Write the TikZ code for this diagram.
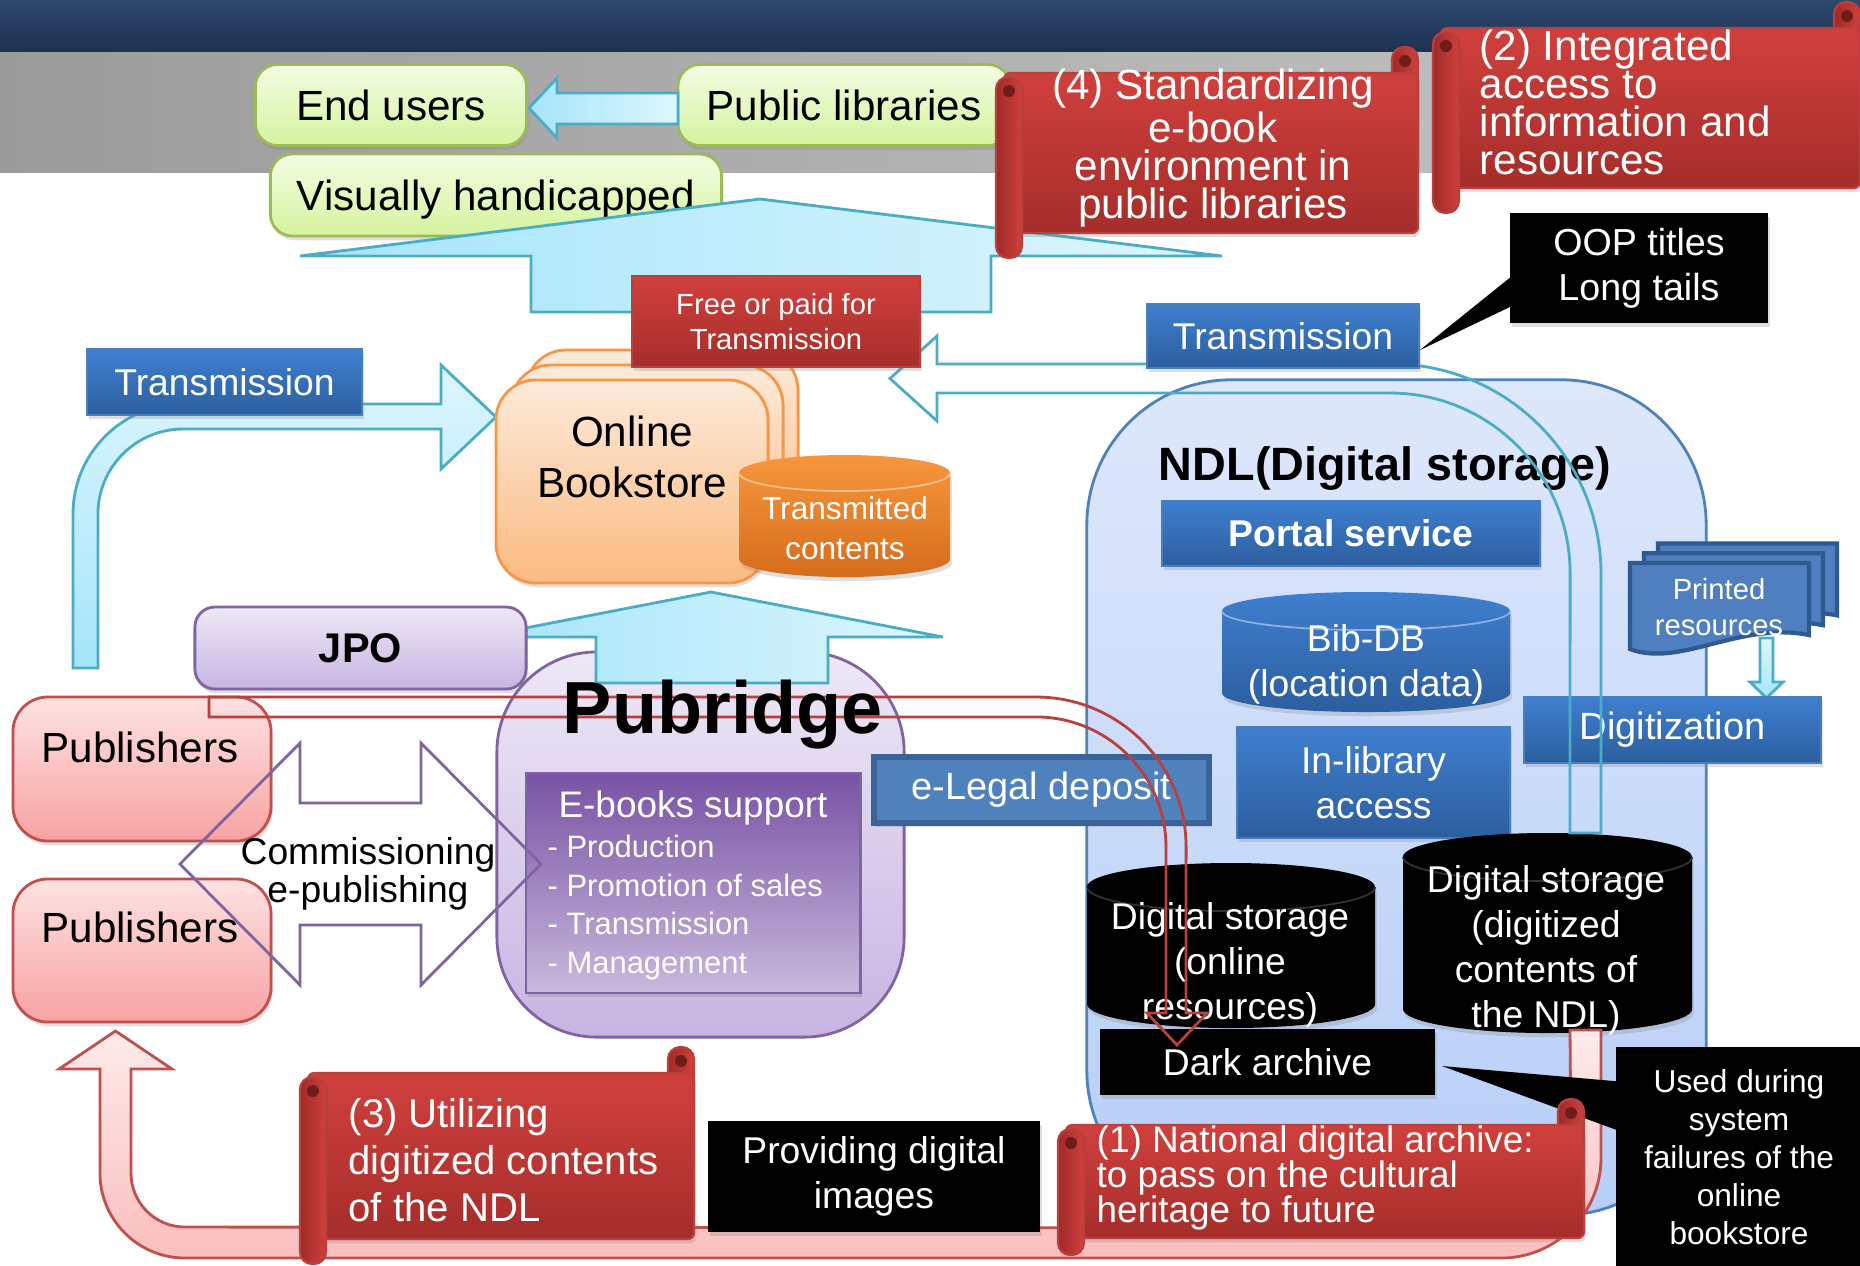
\documentclass[tikz,border=0pt]{standalone}
\usepackage{fontspec}
\setmainfont{Liberation Sans}
\usetikzlibrary{shadows}
\definecolor{navytop}{HTML}{2F4A6E}
\definecolor{navybot}{HTML}{1E3050}
\definecolor{bandl}{HTML}{9B9B9B}
\definecolor{bandr}{HTML}{C6C6C6}
\definecolor{grntop}{HTML}{F3FDE3}
\definecolor{grnbot}{HTML}{D4F39E}
\definecolor{grnedge}{HTML}{9BBB59}
\definecolor{cyanl}{HTML}{A6E5FA}
\definecolor{cyanr}{HTML}{DDF6FD}
\definecolor{cyanedge}{HTML}{4BACC6}
\definecolor{redtop}{HTML}{D0403D}
\definecolor{redbot}{HTML}{A52D2A}
\definecolor{rededge}{HTML}{B8403D}
\definecolor{reddark}{HTML}{9E2A27}
\definecolor{bluetop}{HTML}{3F7FCF}
\definecolor{bluebot}{HTML}{2C5E9E}
\definecolor{bluedge}{HTML}{4A7EBB}
\definecolor{legal}{HTML}{4F81BD}
\definecolor{legaledge}{HTML}{3A6499}
\definecolor{peachtop}{HTML}{FDEADA}
\definecolor{peachbot}{HTML}{FBBA80}
\definecolor{peachedge}{HTML}{F79646}
\definecolor{orgtop}{HTML}{F7963D}
\definecolor{orgbot}{HTML}{D56D1C}
\definecolor{lavtop}{HTML}{EEE8F6}
\definecolor{lavbot}{HTML}{C7B4E2}
\definecolor{lavedge}{HTML}{8064A2}
\definecolor{ebtop}{HTML}{7852A4}
\definecolor{ebbot}{HTML}{C9B9DD}
\definecolor{pinktop}{HTML}{FDE2E2}
\definecolor{pinkbot}{HTML}{F8A2A2}
\definecolor{pinkedge}{HTML}{C0504D}
\definecolor{ndltop}{HTML}{DEE8FB}
\definecolor{ndlbot}{HTML}{B7CEF7}
\definecolor{ndledge}{HTML}{4F81BD}
\definecolor{docblue}{HTML}{4F7FBF}
\definecolor{docedge}{HTML}{2F5A8F}
\newcommand{\fsz}[2]{\fontsize{#1}{#2}\selectfont}
\newcommand{\redscroll}[5]{%
  \path[scrollroll] ({#3-26},{#2-26}) rectangle (#3,{#2+16});
  \path[scrollbody] ({#1+8},#2) rectangle (#3,#4);
  \path[scrollroll] (#1,{#2+4}) rectangle ({#1+26},#5);
  \fill[reddark!70!black] ({#1+13},{#2+18}) circle (0.06cm);
  \fill[reddark!70!black] ({#3-13},{#2-12}) circle (0.06cm);
}
\newcommand{\drum}[7]{%
  \pgfmathsetmacro{\drumrx}{(#5-#3)/200}%
  \pgfmathsetmacro{\drumry}{#7/100}%
  \path[#1] (#3,{#4+#7}) -- (#3,{#6-#7})
    arc[start angle=180, end angle=360, x radius=\drumrx cm, y radius=\drumry cm]
    -- (#5,{#4+#7})
    arc[start angle=0, end angle=180, x radius=\drumrx cm, y radius=\drumry cm] -- cycle;
  \draw[#2] (#3,{#4+#7})
    arc[start angle=180, end angle=360, x radius=\drumrx cm, y radius=\drumry cm];
}

\begin{document}
\begin{tikzpicture}[x=0.01cm, y=-0.01cm,
  shd/.style={drop shadow={shadow xshift=0.5pt, shadow yshift=-1.2pt, opacity=0.25}},
  greenbox/.style={shd, draw=grnedge, line width=0.8pt, rounded corners=0.22cm, top color=grntop, bottom color=grnbot, inner sep=0pt, text depth=0pt, font=\fsz{12}{14}},
  bluebox/.style={shd, draw=bluedge, line width=0.6pt, top color=bluetop, bottom color=bluebot, inner sep=0pt, text=white, align=center},
  redbox/.style={shd, draw=rededge, line width=0.6pt, top color=redtop, bottom color=redbot, inner sep=0pt, text=white, align=center},
  blackbox/.style={shd, fill=black, inner sep=0pt, text=white, align=center},
  legalbox/.style={shd, fill=legal, draw=legaledge, line width=1.6pt, inner sep=0pt, text=white},
  peachbox/.style={shd, draw=peachedge, line width=0.8pt, rounded corners=0.4cm, top color=peachtop, bottom color=peachbot},
  lavbox/.style={shd, draw=lavedge, line width=0.8pt, rounded corners=0.2cm, top color=lavtop, bottom color=lavbot, inner sep=0pt},
  pubbox/.style={draw=lavedge, line width=0.8pt, rounded corners=1cm, top color=lavtop, bottom color=lavbot},
  ebookbox/.style={shd, draw=lavedge, line width=0.8pt, top color=ebtop, bottom color=ebbot},
  pinkbox/.style={shd, draw=pinkedge, line width=0.8pt, rounded corners=0.35cm, top color=pinktop, bottom color=pinkbot},
  ndlbox/.style={draw=ndledge, line width=0.8pt, rounded corners=1.45cm, top color=ndltop, bottom color=ndlbot},
  scrollbody/.style={shd, draw=rededge, line width=0.6pt, rounded corners=0.06cm, top color=redtop, bottom color=redbot},
  scrollroll/.style={draw=rededge, line width=0.6pt, rounded corners=0.12cm, left color=reddark, right color=redtop},
  scrolltext/.style={text=white, inner sep=0pt},
  cyanbase/.style={draw=cyanedge, line width=0.8pt},
  cyanline/.style={draw=cyanedge, line width=0.8pt},
  redline/.style={draw=rededge, line width=0.8pt},
  purpleline/.style={draw=lavedge, line width=0.8pt},
  pinkarrow/.style={draw=pinkedge, line width=0.8pt, top color=pinktop!70, bottom color=pinkbot!70},
  bluecyl/.style={shd, top color=bluetop, bottom color=bluebot},
  bluerim/.style={draw=bluetop!60!white, line width=0.5pt},
  blackcyl/.style={shd, fill=black},
  blackrim/.style={draw=gray!40!black, line width=0.5pt},
  orangecyl/.style={shd, top color=orgtop, bottom color=orgbot},
  orangerim/.style={draw=orgtop!60!white, line width=0.5pt},
  docshape/.style={fill=docblue, draw=docedge, line width=1.2pt}]
\useasboundingbox (0,0) rectangle (1860,1265);
\shade[top color=navytop, bottom color=navybot] (0,0) rectangle (1860,52);
\shade[left color=bandl, right color=bandr] (0,52) rectangle (1860,172);

\node[greenbox, minimum width=3.32cm, minimum height=0.81cm] (publib) at (844,105) {Public libraries};
\node[greenbox, minimum width=2.71cm, minimum height=0.81cm] (users) at (391,105) {End users};
\path[cyanbase, left color=cyanl, right color=cyanr] (678,93) -- (557,93) -- (557,78) -- (529,108) -- (557,138) -- (557,124) -- (678,124) -- cycle;
\node[greenbox, minimum width=4.51cm, minimum height=0.82cm] (blind) at (496,195) {Visually handicapped};
\path[cyanbase, left color=cyanl, right color=cyanr] (531,312) -- (531,256) -- (300,256) -- (760,199) -- (1222,256) -- (991,256) -- (991,312) -- cycle;

\redscroll{996}{73}{1418}{233}{258}
\node[scrolltext, align=center, font=\fsz{12}{10.8}] (goalfour) at (1213,148) {(4) Standardizing\\e-book\\environment in\\public libraries};
\redscroll{1433}{28}{1860}{188}{213}
\node[scrolltext, anchor=west, align=left, font=\fsz{12}{10.8}] (goaltwo) at (1479,102) {(2) Integrated\\access to\\information and\\resources};

\path[cyanbase, top color=cyanr, bottom color=cyanl] (73,668) -- (73,514) arc[start angle=180, end angle=90, radius=1.1cm] -- (441,404) -- (441,365) -- (496,417) -- (441,469) -- (441,429) -- (183,429) arc[start angle=90, end angle=180, radius=0.85cm] -- (98,668) -- cycle;
\node[bluebox, minimum width=2.75cm, minimum height=0.66cm, font=\fsz{10.6}{12}] (transL) at (224.5,382) {Transmission};

\node[ndlbox, minimum width=6.19cm, minimum height=8.35cm] (ndl) at (1396.5,797.5) {};
\node[font=\bfseries\fsz{13.3}{15}] (ndltitle) at (1385,468) {NDL(Digital storage)};
\node[bluebox, font=\bfseries\fsz{10.6}{12}, minimum width=3.78cm, minimum height=0.65cm] (portal) at (1351,533.5) {Portal service};
\drum{bluecyl}{bluerim}{1222}{592}{1510}{712}{19}
\node[text=white, align=center, font=\fsz{10.6}{12.8}] (bibdb) at (1366,664.5) {Bib-DB\\(location data)};
\foreach \d in {28,14,0}
  \path[docshape] ({1630+\d},{563-0.7*\d}) -- ({1809+\d},{563-0.7*\d}) -- ({1809+\d},{635-0.7*\d}) .. controls ({1740+\d},{621-0.7*\d}) and ({1680+\d},{668-0.7*\d}) .. ({1630+\d},{649-0.7*\d}) -- cycle;
\node[text=white, align=center, font=\fsz{8.3}{10}] (printed) at (1719,607) {Printed\\resources};
\path[cyanbase, top color=cyanr, bottom color=cyanl] (1760,638) -- (1760,682) -- (1750,682) -- (1766.5,698) -- (1783,682) -- (1773,682) -- (1773,638) -- cycle;
\node[bluebox, minimum width=2.97cm, minimum height=0.66cm, font=\fsz{10.8}{12}] (digit) at (1672.5,730) {Digitization};
\node[bluebox, minimum width=2.73cm, minimum height=1.11cm, font=\fsz{10.6}{12.8}] (inlib) at (1373.5,782.5) {In-library\\access};
\drum{blackcyl}{blackrim}{1087}{863}{1375}{1028}{24}
\node[text=white, align=center, font=\fsz{10.6}{12.8}] (dsonline) at (1230,965) {Digital storage\\(online\\resources)};
\drum{blackcyl}{blackrim}{1403}{833}{1692}{1033}{24}
\node[text=white, align=center, font=\fsz{10.6}{12.8}] (dsdigit) at (1546,950.5) {Digital storage\\(digitized\\contents of\\the NDL)};
\node[blackbox, minimum width=3.35cm, minimum height=0.66cm, font=\fsz{10.6}{12}] (dark) at (1267.5,1062) {Dark archive};

\draw[cyanline] (1601,833) -- (1601,574) arc[start angle=0, end angle=90, radius=2.1cm] -- (937,364) -- (937,336) -- (890,378.5) -- (937,421) -- (937,393) -- (1390,393) arc[start angle=90, end angle=0, radius=1.8cm] -- (1570,833) -- cycle;
\node[bluebox, minimum width=2.72cm, minimum height=0.64cm, font=\fsz{10.6}{12}] (transU) at (1283,336) {Transmission};
\fill (1420,350) -- (1512,276) -- (1512,306) -- cycle;
\node[blackbox, minimum width=2.58cm, minimum height=1.1cm, font=\fsz{10.7}{12.8}] (oop) at (1639,268) {OOP titles\\Long tails};

\foreach \d in {30,15}
  \path[peachbox] ({496+\d},{380-\d}) rectangle ({768+\d},{583-\d});
\node[peachbox, minimum width=2.72cm, minimum height=2.03cm] (store) at (632,481.5) {};
\node[align=center, font=\fsz{12}{14.5}] (storetext) at (632,457) {Online\\Bookstore};
\drum{orangecyl}{orangerim}{739}{455}{950}{577}{18}
\node[text=white, align=center, font=\fsz{9}{11.4}] (contents) at (845,528) {Transmitted\\contents};
\node[redbox, minimum width=2.88cm, minimum height=0.91cm, font=\fsz{8.3}{9.7}] (freepaid) at (776,321.5) {Free or paid for\\Transmission};

\node[pubbox, minimum width=4.07cm, minimum height=3.85cm] (pubridge) at (700.5,844.5) {};
\path[cyanbase, left color=cyanl, right color=cyanr] (596,683) -- (596,637) -- (479,637) -- (711,592) -- (943,637) -- (828,637) -- (828,683) -- cycle;
\node[lavbox, minimum width=3.31cm, minimum height=0.82cm, font=\bfseries\fsz{11.8}{14}] (jpo) at (360.5,648) {JPO};
\node[ebookbox, minimum width=3.34cm, minimum height=2.2cm] (ebooks) at (693,883) {};
\node[text=white, font=\fsz{10.5}{12}] (ebtitle) at (693,808) {E-books support};
\node[text=white, anchor=west, align=left, inner sep=0pt, font=\fsz{8.8}{11}] (eblist) at (547,907.5) {- Production\\- Promotion of sales\\- Transmission\\- Management};

\node[legalbox, minimum width=3.35cm, minimum height=0.66cm, font=\fsz{10.8}{12}] (legal) at (1041.5,790) {e-Legal deposit};

\node[pinkbox, minimum width=2.58cm, minimum height=1.44cm] (pubA) at (142,769) {};
\node[font=\fsz{12}{14}] (pubAtext) at (140,747) {Publishers};
\node[pinkbox, minimum width=2.58cm, minimum height=1.43cm] (pubB) at (142,950.5) {};
\node[font=\fsz{12}{14}] (pubBtext) at (140,927) {Publishers};

\draw[redline] (209,697) -- (1036,697) arc[start angle=90, end angle=0, radius=1.5cm] -- (1186,1013) -- (1207,1013) -- (1177,1045) -- (1147,1013) -- (1166,1013) -- (1166,847) arc[start angle=0, end angle=90, radius=1.3cm] -- (209,717) -- cycle;
\node[font=\bfseries\fsz{21}{24}] (pubtitle) at (723,715) {Pubridge};

\draw[purpleline] (180,864) -- (300,743) -- (300,803) -- (421,803) -- (421,743) -- (541,864) -- (421,985) -- (421,925) -- (300,925) -- (300,985) -- cycle;
\node[align=center, font=\fsz{10.6}{9.8}] (commis) at (368,874) {Commissioning\\e-publishing};

\path[pinkarrow] (1601,1030) -- (1601,1158) arc[start angle=0, end angle=-90, radius=1cm] -- (185,1258) arc[start angle=270, end angle=180, radius=0.85cm] -- (100,1069) -- (59,1069) -- (115.5,1031) -- (172,1069) -- (131,1069) -- (131,1173) arc[start angle=180, end angle=270, radius=0.54cm] -- (1501,1228) arc[start angle=270, end angle=360, radius=0.7cm] -- (1570,1030) -- cycle;

\redscroll{300}{1073}{694}{1239}{1264}
\node[scrolltext, anchor=west, align=left, font=\fsz{11.4}{13.4}] (goalthree) at (348,1160) {(3) Utilizing\\digitized contents\\of the NDL};
\node[blackbox, minimum width=3.32cm, minimum height=1.11cm, font=\fsz{10.6}{12.8}] (provide) at (874,1176.5) {Providing digital\\images};
\fill (1442,1066) -- (1625,1082) -- (1625,1133) -- cycle;
\node[blackbox, minimum width=2.45cm, minimum height=2.2cm, font=\fsz{9}{10.8}] (used) at (1739,1157) {Used during\\system\\failures of the\\online\\bookstore};
\redscroll{1058}{1125}{1584}{1238}{1255}
\node[scrolltext, anchor=west, align=left, font=\fsz{10.5}{10}] (goalone) at (1096,1178) {(1) National digital archive:\\to pass on the cultural\\heritage to future};
\end{tikzpicture}
\end{document}
